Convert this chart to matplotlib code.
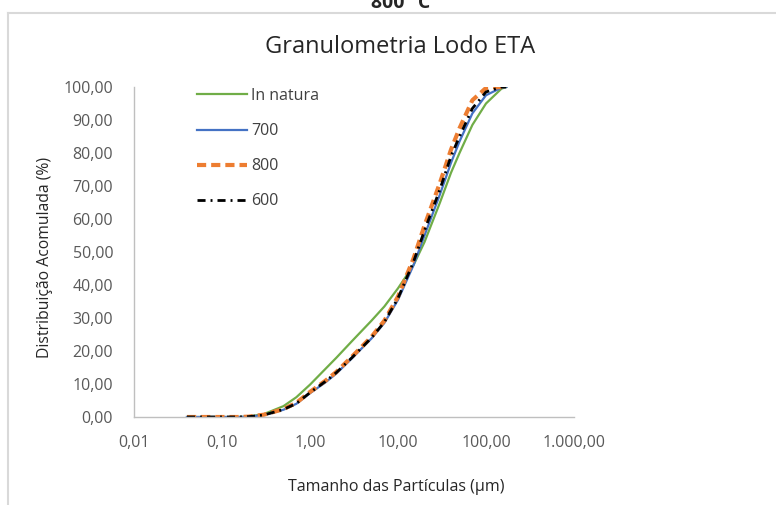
import matplotlib
matplotlib.use("Agg")
import matplotlib.pyplot as plt
from matplotlib.lines import Line2D

plt.rcParams['font.family'] = ['Open Sans', 'DejaVu Sans']

# particle size (um) and cumulative distribution (%)
sizes = [0.04, 0.06, 0.1, 0.15, 0.2, 0.3, 0.5, 0.7, 1, 1.5, 2, 3, 5, 7,
         10, 15, 20, 30, 40, 50, 70, 100, 150, 170]
in_natura = [0, 0, 0, 0, 0.1, 0.9, 3.3, 6.0, 9.8, 14.6, 18.0, 23.0, 29.2, 33.5,
             39.0, 46.0, 53.0, 65.0, 74.0, 80.0, 88.5, 95.0, 99.5, 100]
t700 = [0, 0, 0, 0, 0.1, 0.6, 2.2, 4.0, 7.2, 10.5, 13.2, 17.8, 23.8, 28.5,
        35.5, 46.0, 55.0, 67.5, 77.0, 83.5, 92.0, 97.5, 99.8, 100]
t800 = [0, 0, 0, 0, 0.1, 0.7, 2.4, 4.3, 7.6, 11.0, 13.7, 18.3, 24.3, 29.2,
        36.5, 48.0, 58.0, 71.0, 81.0, 87.5, 96.0, 99.7, 100, 100]
t600 = [0, 0, 0, 0, 0.1, 0.6, 2.3, 4.1, 7.4, 10.8, 13.5, 18.0, 24.0, 28.8,
        36.0, 47.0, 56.5, 69.0, 79.0, 85.0, 93.5, 98.5, 100, 100]

x_ticks = [0.01, 0.1, 1, 10, 100, 1000]
x_labels = ['0,01', '0,10', '1,00', '10,00', '100,00', '1.000,00']
y_ticks = [0, 10, 20, 30, 40, 50, 60, 70, 80, 90, 100]
y_labels = ['0,00', '10,00', '20,00', '30,00', '40,00', '50,00',
            '60,00', '70,00', '80,00', '90,00', '100,00']

W, H = 776, 505
fig = plt.figure(figsize=(W / 100, H / 100), dpi=100)
ax = fig.add_axes([134 / W, 1 - 417 / H, (574 - 134) / W, (417 - 87) / H])

ax.plot(sizes, in_natura, color='#70AD47', lw=1.6, label='In natura')
ax.plot(sizes, t700, color='#4472C4', lw=1.6, label='700')
ax.plot(sizes, t800, color='#ED7D31', lw=3.0, linestyle=(0, (2.2, 1.2)),
        label='800')
ax.plot(sizes, t600, color='black', lw=2.0, linestyle=(0, (2.9, 1.8, 0.7, 1.8)),
        label='600')

ax.set_xscale('log')
ax.set_xlim(0.01, 1000)
ax.set_ylim(0, 100)
ax.set_xticks(x_ticks)
ax.set_xticklabels(x_labels)
ax.set_xticks([], minor=True)
ax.set_yticks(y_ticks)
ax.set_yticklabels(y_labels)
ax.tick_params(length=0, labelsize=11.5, labelcolor='#595959')
ax.tick_params(axis='x', pad=13)
ax.tick_params(axis='y', pad=15)
for s in ['top', 'right']:
    ax.spines[s].set_visible(False)
for s in ['left', 'bottom']:
    ax.spines[s].set_color('#BFBFBF')
    ax.spines[s].set_linewidth(1.0)

ax.legend(loc='upper left', bbox_to_anchor=(197 / W, 1 - 88 / H),
          bbox_transform=fig.transFigure, frameon=False, fontsize=11.5,
          handlelength=3.1, handletextpad=0.3, labelspacing=1.2,
          borderpad=0, borderaxespad=0, labelcolor='#404040')

fig.text(400 / W, 1 - 47 / H, 'Granulometria Lodo ETA', ha='center', va='center',
         fontsize=17, color='#262626')
fig.text(45 / W, 1 - 257 / H, 'Distribuição Acomulada (%)', ha='center',
         va='center', rotation=90, fontsize=11.3, color='#262626')
fig.text(396 / W, 1 - 487 / H, 'Tamanho das Partículas (µm)', ha='center',
         va='center', fontsize=11.5, color='#262626')
fig.text(401 / W, 1 - 8 / H, '800 °C', ha='center', va='baseline',
         fontsize=14, fontweight='bold', color='#262626')

# chart frame
fig.add_artist(Line2D([8 / W, 1], [1 - 13 / H, 1 - 13 / H], color='#D9D9D9',
                      lw=1.5, transform=fig.transFigure))
fig.add_artist(Line2D([8 / W, 8 / W], [1 - 13 / H, 0], color='#D9D9D9',
                      lw=1.5, transform=fig.transFigure))

fig.savefig('out.png', dpi=100)
